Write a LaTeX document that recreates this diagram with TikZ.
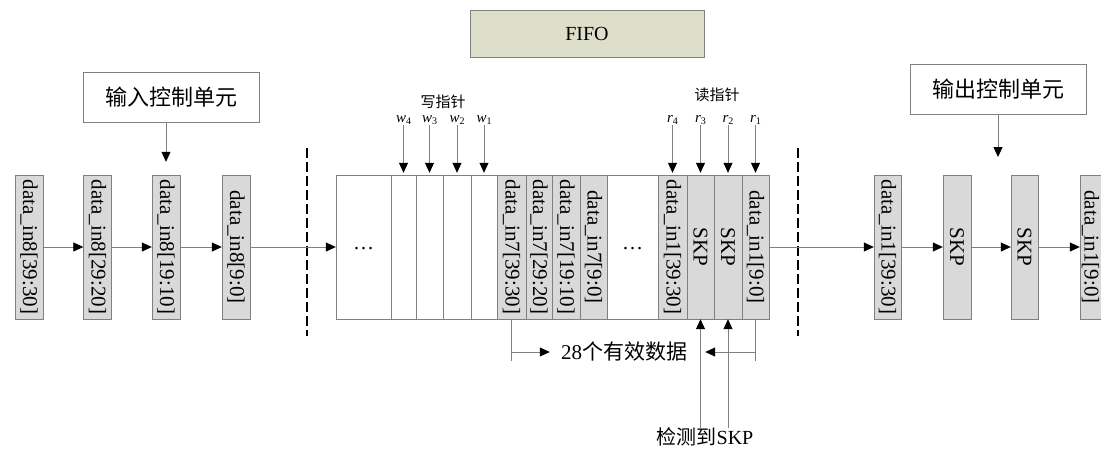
\documentclass[tikz,border=0pt]{standalone}
\usepackage{fontspec}
\setmainfont{Liberation Serif}
\newfontfamily\cjk{Noto Sans CJK SC}
\usepackage{xcolor}
\usepackage{graphicx}
\usepackage{tikz}
\usetikzlibrary{arrows.meta,positioning}
\definecolor{linegray}{RGB}{128,128,128}
\definecolor{cellgray}{RGB}{217,217,217}
\definecolor{fifogreen}{RGB}{221,223,203}
\newcommand{\vtext}[1]{\rotatebox{-90}{#1}}
\newcommand{\ptrlabel}[2]{\textit{#1}\raisebox{-0.4ex}{\fontsize{10}{10}\selectfont #2}}

\begin{document}
\begin{tikzpicture}[x=1pt, y=-1pt,
  cell/.style={draw=linegray, fill=cellgray, minimum height=144pt,
    inner sep=0pt, font=\fontsize{21}{24}\selectfont},
  slot/.style={cell, fill=white},
  ctrl/.style={draw=linegray, fill=white, minimum width=176pt,
    minimum height=50pt, font=\cjk\fontsize{22}{26}\selectfont},
  arr/.style={linegray, line width=0.8pt,
    -{Triangle[length=10pt, width=9pt, color=black]}},
  ptrarr/.style={arr, shorten >=2pt},
  ptr/.style={font=\fontsize{15}{18}\selectfont, inner sep=0pt},
  note/.style={font=\cjk\fontsize{15}{18}\selectfont, inner sep=0pt},
  bar/.style={line width=2.5pt, dash pattern=on 10pt off 4pt}
]
\useasboundingbox (0,0) rectangle (1101,448);
\clip (0,0) rectangle (1101,448);

% FIFO
\node[draw=linegray, fill=fifogreen, minimum width=234pt,
  minimum height=47pt, font=\fontsize{20}{24}\selectfont]
  (fifo) at (587,33.5) {FIFO};

% Input control unit
\node[ctrl] (inctl) at (171,97) {输入控制单元};

% Input registers
\node[cell, minimum width=28pt] (d1) at (29,247) {\vtext{data\_in8[39:30]}};
\node[cell, minimum width=28pt] (d2) at (97.5,247) {\vtext{data\_in8[29:20]}};
\node[cell, minimum width=28pt] (d3) at (166,247) {\vtext{data\_in8[19:10]}};
\node[cell, minimum width=28pt] (d4) at (236,247) {\vtext{data\_in8[9:0]}};

% Clock domain borders
\draw[bar] (307,148) -- (307,336);
\draw[bar] (798,148) -- (798,336);

% FIFO cells
\node[slot, minimum width=55pt] (c0) at (363.5,247) {\raisebox{-6pt}{\dots}};
\node[slot, minimum width=25pt] (c1) at (403.5,247) {};
\node[slot, minimum width=27pt] (c2) at (429.5,247) {};
\node[slot, minimum width=28pt] (c3) at (457,247) {};
\node[slot, minimum width=26pt] (c4) at (484,247) {};
\node[cell, minimum width=29pt] (c5) at (511.5,247) {\vtext{data\_in7[39:30]}};
\node[cell, minimum width=26pt] (c6) at (539,247) {\vtext{data\_in7[29:20]}};
\node[cell, minimum width=28pt] (c7) at (566,247) {\vtext{data\_in7[19:10]}};
\node[cell, minimum width=27pt] (c8) at (593.5,247) {\vtext{data\_in7[9:0]}};
\node[slot, minimum width=51pt] (c9) at (632.5,247) {\raisebox{-6pt}{\dots}};
\node[cell, minimum width=29pt] (c10) at (672.5,247) {\vtext{data\_in1[39:30]}};
\node[cell, minimum width=27pt] (c11) at (700.5,247) {\vtext{SKP}};
\node[cell, minimum width=28pt] (c12) at (728,247) {\vtext{SKP}};
\node[cell, minimum width=27pt] (c13) at (755.5,247) {\vtext{data\_in1[9:0]}};

% Write pointer
\node[note] (wptr) at (443,102) {写指针};
\node[ptr] (w4) at (403.5,120) {\ptrlabel{w}{4}};
\node[ptr] (w3) at (429.5,120) {\ptrlabel{w}{3}};
\node[ptr] (w2) at (457,120) {\ptrlabel{w}{2}};
\node[ptr] (w1) at (484,120) {\ptrlabel{w}{1}};
\draw[ptrarr] (w4) -- (c1);
\draw[ptrarr] (w3) -- (c2);
\draw[ptrarr] (w2) -- (c3);
\draw[ptrarr] (w1) -- (c4);

% Read pointer
\node[note] (rptr) at (717,95) {读指针};
\node[ptr] (r4) at (672.5,120) {\ptrlabel{r}{4}};
\node[ptr] (r3) at (700.5,120) {\ptrlabel{r}{3}};
\node[ptr] (r2) at (728,120) {\ptrlabel{r}{2}};
\node[ptr] (r1) at (755.5,120) {\ptrlabel{r}{1}};
\draw[ptrarr] (r4) -- (c10);
\draw[ptrarr] (r3) -- (c11);
\draw[ptrarr] (r2) -- (c12);
\draw[ptrarr] (r1) -- (c13);

% Valid data span
\node[font=\fontsize{21}{24}\selectfont, inner sep=0pt]
  (valid) at (624,352) {28{\cjk 个有效数据}};
\draw[linegray, line width=0.8pt] (c5.south) -- ++(0,42);
\draw[linegray, line width=0.8pt] (c13.south) -- ++(0,42);
\draw[arr, shorten >=11pt] (c5 |- valid) -- (valid.west);
\draw[arr, shorten >=18pt] (c13 |- valid) -- (valid.east);

% SKP detection
\node[font=\fontsize{20}{24}\selectfont, inner sep=0pt]
  (detect) at (705,437) {{\cjk 检测到}SKP};
\draw[arr] (c11 |- detect.north) -- (c11.south);
\draw[arr] (c12 |- detect.north) -- (c12.south);

% Output control unit
\node[ctrl] (outctl) at (998,89.5) {输出控制单元};
\coordinate (outtip) at (998,157);
\draw[arr] (outctl) -- (outtip);

% Output registers
\node[cell, minimum width=27pt] (e1) at (887.5,247) {\vtext{data\_in1[39:30]}};
\node[cell, minimum width=28pt] (e2) at (957,247) {\vtext{SKP}};
\node[cell, minimum width=27pt] (e3) at (1024.5,247) {\vtext{SKP}};
\node[cell, minimum width=21pt] (e4) at (1090.5,247) {\vtext{data\_in1[9:0]}};

% Data flow
\draw[arr, shorten >=13pt] (d3 |- inctl.south) -- (d3.north);
\draw[arr] (d1) -- (d2);
\draw[arr] (d2) -- (d3);
\draw[arr] (d3) -- (d4);
\draw[arr] (d4) -- (c0);
\draw[arr] (c13) -- (e1);
\draw[arr] (e1) -- (e2);
\draw[arr] (e2) -- (e3);
\draw[arr] (e3) -- (e4);

\end{tikzpicture}
\end{document}
